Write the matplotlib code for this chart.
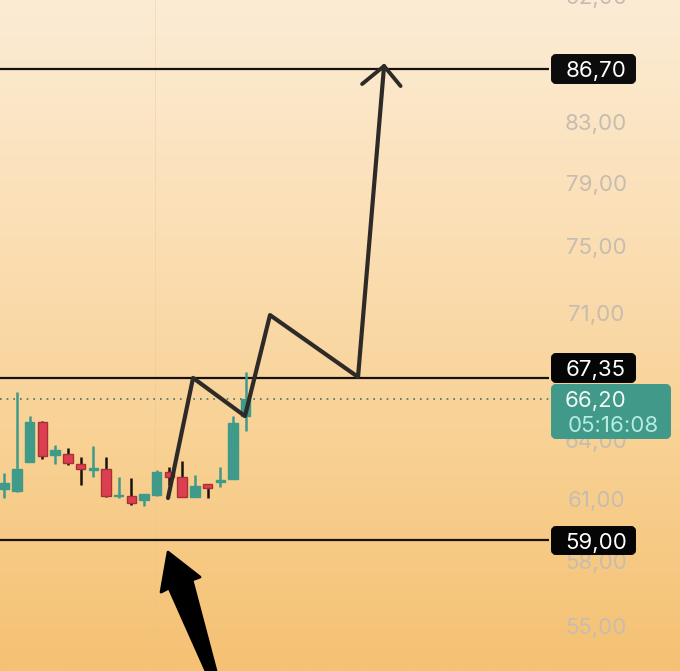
import numpy as np
import matplotlib
matplotlib.use('Agg')
import matplotlib.pyplot as plt
from matplotlib.patches import FancyBboxPatch, Polygon
from matplotlib.colors import LinearSegmentedColormap

plt.rcParams['font.family'] = ['Inter', 'DejaVu Sans']

# candles
opens  = [61.50, 61.41, 62.87, 64.98, 63.23, 63.27, 62.77, 62.48, 62.51, 61.15, 61.16, 60.95, 61.18, 62.36, 62.12, 61.10, 61.75, 61.88, 61.99, 65.28]
closes = [61.78, 62.50, 64.98, 63.18, 63.49, 62.84, 62.50, 62.55, 61.13, 61.21, 60.82, 61.23, 62.38, 62.12, 61.10, 61.67, 61.56, 61.97, 64.91, 66.18]
highs  = [62.29, 66.56, 65.28, 65.03, 63.75, 63.60, 63.11, 63.68, 63.11, 62.10, 62.05, 61.23, 62.44, 62.61, 62.94, 62.19, 61.75, 62.63, 65.28, 67.66]
lows   = [61.05, 61.33, 62.87, 63.04, 62.77, 62.70, 61.68, 62.10, 61.11, 61.05, 60.68, 60.65, 61.16, 61.68, 61.08, 61.10, 61.05, 61.60, 61.99, 64.50]

# hand drawn zigzag and head
path_x = [12.89, 14.86, 18.95, 20.92, 27.85, 29.90]
path_y = [61.05, 67.35, 65.28, 70.90, 67.40, 86.91]
head_x = [28.17, 29.90, 31.20]
head_y = [85.64, 86.91, 85.50]

# big black arrow at the bottom
arrow_x = [12.89, 15.41, 14.78, 16.67, 15.88, 12.97, 12.34]
arrow_y = [58.41, 57.23, 57.09, 53.00, 53.00, 56.72, 56.53]

tick_vals = [92, 83, 79, 75, 71, 64, 61, 58, 55]
tick_labels = ['92,00', '83,00', '79,00', '75,00', '71,00', '64,00', '61,00', '58,00', '55,00']
levels = [86.70, 67.35, 59.00]
last_price = 66.20

GREEN = '#3f9a8a'
RED = '#dc4050'

fig = plt.figure(figsize=(6.8, 6.71), dpi=100)
ax = fig.add_axes([0, 0, 1, 1])
ax.set_yscale('log')
ax.axis('off')

# background gradient
cmap = LinearSegmentedColormap.from_list('bg', ['#fcecd5', '#fbdfb6', '#f8d193', '#f5c173'])
ax.imshow(np.linspace(0, 1, 256).reshape(-1, 1), cmap=cmap, aspect='auto',
          extent=[0, 1, 0, 1], transform=ax.transAxes, zorder=0)
ax.set_xlim(-0.339, 53.2)
ax.set_ylim(53.0, 91.73)

# faint grid
ax.axvline(11.9, color='#e8c48a', lw=0.6, alpha=0.4, zorder=1)

for v, lab in zip(tick_vals, tick_labels):
    ax.text(46.6, v, lab, color='#c6bdb0', fontsize=16, ha='center', va='center_baseline', zorder=2)

ax.hlines(levels, -0.339, 42.9, color='#15110d', lw=1.6, zorder=3)
ax.hlines(last_price, -0.339, 42.9, color='#3f7567', lw=1.2, linestyles=(0, (1, 3)), zorder=3)

# candles
x = np.arange(len(opens))
o, c = np.array(opens), np.array(closes)
up = c >= o
wick_colors = [GREEN if u else '#1a1210' for u in up]
ax.vlines(x, lows, highs, colors=wick_colors, lw=1.8, zorder=4)
ax.bar(x, np.abs(c - o), bottom=np.minimum(o, c), width=0.74,
       color=[GREEN if u else RED for u in up],
       edgecolor=[GREEN if u else '#a92f38' for u in up], lw=1.0, zorder=5)

# zigzag drawn on top
ax.plot(path_x, path_y, color='#2e2a28', lw=3.0, solid_joinstyle='round', solid_capstyle='round', zorder=6)
ax.plot(head_x, head_y, color='#2e2a28', lw=2.8, solid_joinstyle='round', solid_capstyle='round', zorder=6)
ax.add_patch(Polygon(np.column_stack([arrow_x, arrow_y]), closed=True, facecolor='black',
                     edgecolor='black', lw=2, joinstyle='round', zorder=6))

# price labels in pixel coordinates
over = fig.add_axes([0, 0, 1, 1], facecolor='none')
over.set_xlim(0, 680)
over.set_ylim(671, 0)
over.axis('off')


def box(x0, y0, x1, y1, color):
    over.add_patch(FancyBboxPatch((x0 + 3, y0 + 3), x1 - x0 - 6, y1 - y0 - 6,
                                  boxstyle='round,pad=0,rounding_size=2', mutation_aspect=1,
                                  facecolor=color, edgecolor=color, lw=4.3))


box(551, 384, 671, 439, '#41998a')
box(551, 54, 636, 84, '#0c0c0d')
box(551, 353, 636, 383, '#050505')
box(551, 526, 636, 555, '#050505')

for cy, lab in [(69, '86,70'), (368, '67,35'), (541, '59,00')]:
    over.text(596, cy, lab, color='white', fontsize=16, ha='center', va='center_baseline')
over.text(596, 399, '66,20', color='#f2fbf8', fontsize=16, ha='center', va='center_baseline')
over.text(613, 424, '05:16:08', color='#b5ece0', fontsize=16, ha='center', va='center_baseline')

fig.savefig('out.png', dpi=100)
